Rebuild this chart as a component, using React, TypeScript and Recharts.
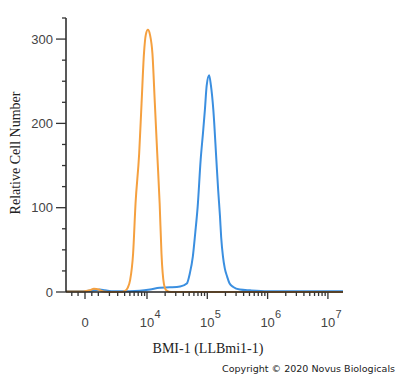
import { LineChart, Line, XAxis, YAxis } from 'recharts';

// x positions are in display decades (biexponential axis: 0 sits near 2.97, 10^4 at 4, ...)
const orangePos = [2.657, 2.73, 2.81, 2.86, 2.92, 2.97, 3.05, 3.12, 3.2, 3.26, 3.31, 3.38, 3.46, 3.58, 3.63, 3.68, 3.72, 3.77, 3.81, 3.87, 3.91, 3.95, 3.98, 4.015, 4.05, 4.09, 4.13, 4.17, 4.21, 4.24, 4.28, 4.32, 4.4, 4.6, 5.0, 5.5, 6.0, 6.5, 7.0, 7.25];
const orangeCount = [0.5, 0.5, 0.5, 0.5, 0.5, 0.8, 2, 4, 3, 0.8, 0.3, 0, 0, 0, 1, 5, 14, 46, 105, 164, 224, 283, 305, 311, 305, 283, 224, 164, 105, 46, 10, 2, 0, 0, 0, 0, 0, 0, 0, 0];

const bluePos = [2.657, 2.97, 3.13, 3.22, 3.3, 3.41, 3.71, 3.88, 4.05, 4.21, 4.38, 4.55, 4.66, 4.71, 4.76, 4.8, 4.84, 4.89, 4.93, 4.96, 4.99, 5.03, 5.06, 5.1, 5.15, 5.18, 5.21, 5.23, 5.26, 5.29, 5.33, 5.37, 5.43, 5.54, 5.71, 6.0, 6.5, 7.0, 7.25];
const blueCount = [1, 1, 2, 3, 2, 1, 1, 1.5, 3, 5, 5.5, 6.5, 10, 22, 42, 70, 101, 157, 190, 216, 245, 257, 245, 216, 157, 121, 90, 65, 42, 28, 18, 10, 6, 3, 2, 1, 1, 1, 1];

const yTicks = [0, 25, 50, 75, 100, 125, 150, 175, 200, 225, 250, 275, 300, 325];
const yLabels = [0, 100, 200, 300];

const xMajor = [2.972, 4, 5, 6, 7];
const xMajorLabels = ['0', '10', '10', '10', '10'];
const xMajorExp = ['', '4', '5', '6', '7'];
const xMinor = [
    2.753, 2.857, 3.085, 3.193, 3.377, 3.514, 3.629, 3.716, 3.787, 3.854, 3.911, 3.96,
    4.301, 4.477, 4.602, 4.699, 4.778, 4.845, 4.903, 4.954,
    5.301, 5.477, 5.602, 5.699, 5.778, 5.845, 5.903, 5.954,
    6.301, 6.477, 6.602, 6.699, 6.778, 6.845, 6.903, 6.954,
];

const orangeData = orangePos.map((x, i) => ({ x, count: orangeCount[i] }));
const blueData = bluePos.map((x, i) => ({ x, count: blueCount[i] }));
const xTicks = [...xMajor, ...xMinor].sort((a, b) => a - b);

const tickFont = '"Liberation Sans", Arial, sans-serif';

const YTick = (props: any) => {
    const { x, y, payload } = props;
    const major = yLabels.includes(payload.value);
    return (
        <g>
            <line x1={x - (major ? 10 : 4)} x2={x} y1={y} y2={y} stroke="#333" strokeWidth={1.3} />
            {major && (
                <text x={x - 13} y={y} dy={4.5} textAnchor="end" fontSize={13} fontFamily={tickFont} fill="#444">
                    {payload.value}
                </text>
            )}
        </g>
    );
};

const XTick = (props: any) => {
    const { x, y, payload } = props;
    const idx = xMajor.indexOf(payload.value);
    if (idx < 0) {
        return <line x1={x} x2={x} y1={y} y2={y + 4} stroke="#333" strokeWidth={1.3} />;
    }
    return (
        <g>
            <line x1={x} x2={x} y1={y} y2={y + 7} stroke="#333" strokeWidth={1.3} />
            <text x={x} y={y + 35} textAnchor="middle" fontSize={13} fontFamily={tickFont} fill="#444">
                {xMajorLabels[idx]}
            </text>
            {xMajorExp[idx] && (
                <text x={x + 7.5} y={y + 26} fontSize={11} fontFamily={tickFont} fill="#444">
                    {xMajorExp[idx]}
                </text>
            )}
        </g>
    );
};

export default function App() {
    return (
        <div style={{ position: 'absolute', left: 0, top: 0, width: 400, height: 378, background: '#fff' }}>
            <LineChart width={400} height={378} margin={{ top: 18, right: 57, bottom: 0, left: 0 }}>
                <XAxis
                    type="number"
                    dataKey="x"
                    domain={[2.657, 7.25]}
                    ticks={xTicks}
                    interval={0}
                    allowDataOverflow
                    height={86}
                    tickSize={0}
                    tickMargin={0}
                    tickLine={false}
                    tick={<XTick />}
                    axisLine={{ stroke: '#222', strokeWidth: 1.5 }}
                />
                <YAxis
                    type="number"
                    domain={[0, 325]}
                    ticks={yTicks}
                    interval={0}
                    width={66}
                    tickSize={0}
                    tickMargin={0}
                    tickLine={false}
                    tick={<YTick />}
                    axisLine={{ stroke: '#222', strokeWidth: 1.5 }}
                />
                <Line data={blueData} dataKey="count" type="monotone" stroke="#3b8fe0" strokeWidth={2} dot={false} isAnimationActive={false} />
                <Line data={orangeData} dataKey="count" type="monotone" stroke="#f5a03f" strokeWidth={2} dot={false} isAnimationActive={false} />
            </LineChart>
            <svg width={400} height={378} style={{ position: 'absolute', left: 0, top: 0, pointerEvents: 'none' }}>
                <text
                    transform="translate(20, 153) rotate(-90)"
                    textAnchor="middle"
                    fontSize={14}
                    fontFamily='"Liberation Serif", "Times New Roman", serif'
                    fill="#222"
                >
                    Relative Cell Number
                </text>
                <text x={208} y={353} textAnchor="middle" fontSize={14} fontFamily='"Liberation Serif", "Times New Roman", serif' fill="#222">
                    BMI-1 (LLBmi1-1)
                </text>
                <text x={222} y={372} fontSize={9} fontFamily='"DejaVu Sans", Verdana, sans-serif' fill="#222" textLength={173} lengthAdjust="spacingAndGlyphs">
                    Copyright © 2020 Novus Biologicals
                </text>
            </svg>
        </div>
    );
}
